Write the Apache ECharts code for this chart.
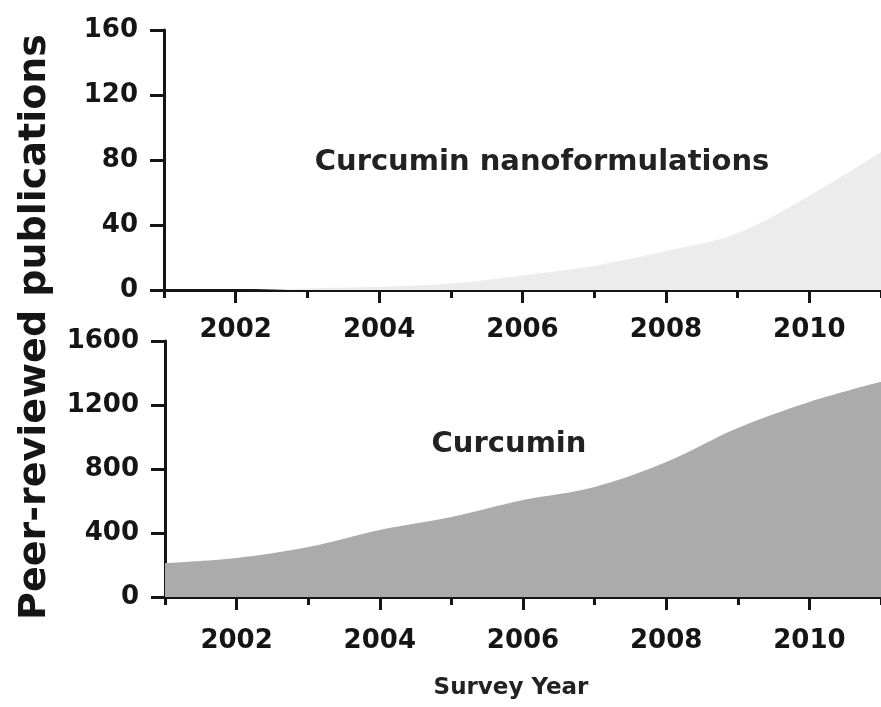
<!DOCTYPE html>
<html>
<head>
<meta charset="utf-8">
<script src="https://cdn.jsdelivr.net/npm/echarts@6/dist/echarts.min.js"></script>
<style>html,body{margin:0;padding:0;background:#fff}#c{width:881px;height:707px}</style>
</head>
<body>
<div id="c"></div>
<script>
const years = [2001, 2002, 2003, 2004, 2005, 2006, 2007, 2008, 2009, 2010, 2011];
const nanoformulations = [0, 0, 1, 2, 4, 9, 15, 24, 35, 58, 85];
const curcumin = [212, 244, 312, 419, 500, 606, 688, 844, 1056, 1219, 1345];
const evenYears = [2002, 2004, 2006, 2008, 2010];
const oddYears = [2001, 2003, 2005, 2007, 2009, 2011];
const topTicks = [0, 40, 80, 120, 160];
const bottomTicks = [0, 400, 800, 1200, 1600];

const F = 'DejaVu Sans';
const ink = '#151515';
const chart = echarts.init(document.getElementById('c'), null, {renderer: 'canvas'});
const plain = v => String(v);

function xMain(g, margin) {
  return {
    type: 'value', gridIndex: g, position: 'bottom', min: 2001, max: 2011,
    axisLine: {show: true, lineStyle: {color: ink, width: 3}},
    axisTick: {show: true, customValues: evenYears, length: 13, lineStyle: {color: ink, width: 3}},
    axisLabel: {show: true, customValues: evenYears, formatter: plain, margin: margin, color: ink, fontFamily: F, fontWeight: 'bold', fontSize: 26},
    splitLine: {show: false}
  };
}
function xMinor(g) {
  return {
    type: 'value', gridIndex: g, position: 'bottom', min: 2001, max: 2011,
    axisLine: {show: false},
    axisTick: {show: true, customValues: oddYears, length: 8, lineStyle: {color: ink, width: 3}},
    axisLabel: {show: false},
    splitLine: {show: false}
  };
}
function yAx(g, ticks) {
  return {
    type: 'value', gridIndex: g, min: ticks[0], max: ticks[ticks.length - 1],
    interval: ticks[1] - ticks[0],
    axisLine: {show: true, lineStyle: {color: ink, width: 3}},
    axisTick: {show: true, length: 14, lineStyle: {color: ink, width: 3}},
    axisLabel: {margin: 26, formatter: plain, color: ink, fontFamily: F, fontWeight: 'bold', fontSize: 26},
    splitLine: {show: false}
  };
}

chart.setOption({
  backgroundColor: '#ffffff',
  animation: false,
  grid: [
    {left: 164, top: 30, width: 720, height: 260},
    {left: 165, top: 341, width: 720, height: 256}
  ],
  xAxis: [xMain(0, 27), xMinor(0), xMain(1, 31), xMinor(1)],
  yAxis: [yAx(0, topTicks), yAx(1, bottomTicks)],
  series: [
    {
      type: 'line', xAxisIndex: 0, yAxisIndex: 0, smooth: 0.35, symbol: 'none',
      lineStyle: {width: 0, color: '#ececec'},
      areaStyle: {color: '#ececec', opacity: 1},
      data: years.map((y, i) => [y, nanoformulations[i]]),
      z: 1
    },
    {
      type: 'line', xAxisIndex: 2, yAxisIndex: 1, smooth: 0.35, symbol: 'none',
      lineStyle: {width: 0, color: '#ababab'},
      areaStyle: {color: '#ababab', opacity: 1},
      data: years.map((y, i) => [y, curcumin[i]]),
      z: 1
    }
  ],
  graphic: [
    {type: 'text', x: 35, y: 327, rotation: Math.PI / 2,
      style: {text: 'Peer-reviewed publications', fontFamily: F, fontWeight: 'bold', fontSize: 38, fill: ink, align: 'center', verticalAlign: 'middle'}},
    {type: 'text', x: 542, y: 162,
      style: {text: 'Curcumin nanoformulations', fontFamily: F, fontWeight: 'bold', fontSize: 29, fill: '#222', align: 'center', verticalAlign: 'middle'}},
    {type: 'text', x: 509, y: 444,
      style: {text: 'Curcumin', fontFamily: F, fontWeight: 'bold', fontSize: 29, fill: '#222', align: 'center', verticalAlign: 'middle'}},
    {type: 'text', x: 511, y: 688,
      style: {text: 'Survey Year', fontFamily: F, fontWeight: 'bold', fontSize: 23, fill: '#222', align: 'center', verticalAlign: 'middle'}}
  ]
});
</script>
</body>
</html>
